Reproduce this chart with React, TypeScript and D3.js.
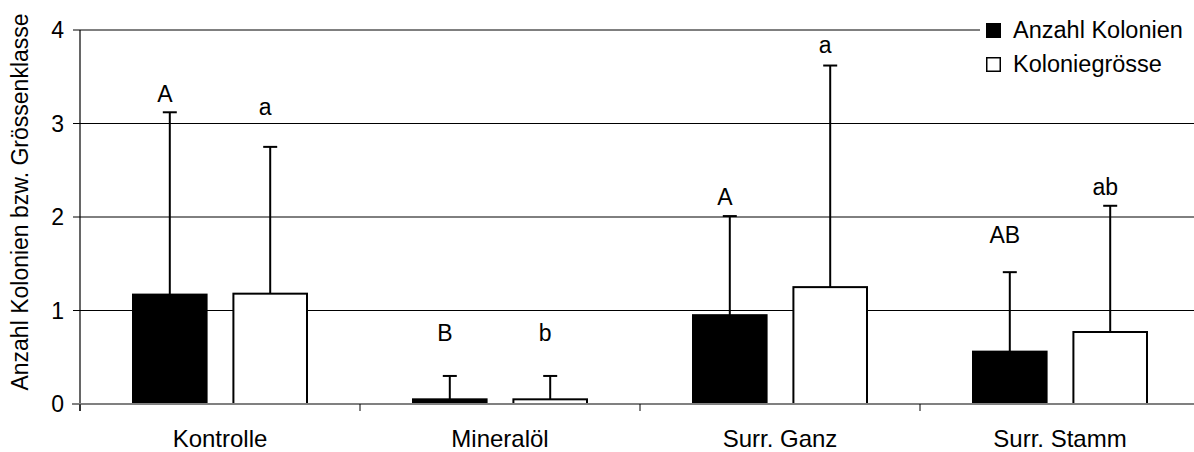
import React from 'react'
import * as d3 from 'd3'

const categories = ['Kontrolle', 'Mineralöl', 'Surr. Ganz', 'Surr. Stamm']
const series = ['Anzahl Kolonien', 'Koloniegrösse']
const anzahlMean = [1.17, 0.05, 0.95, 0.56]
const anzahlErr = [1.95, 0.25, 1.06, 0.85]
const groesseMean = [1.18, 0.05, 1.25, 0.77]
const groesseErr = [1.57, 0.25, 2.37, 1.35]
const anzahlLetters = ['A', 'B', 'A', 'AB']
const groesseLetters = ['a', 'b', 'a', 'ab']
// letter baseline, in data units (placed by hand in the original)
const anzahlLetterY = [3.23, 0.67, 2.13, 1.72]
const groesseLetterY = [3.09, 0.67, 3.75, 2.235]
const yTicks = [0, 1, 2, 3, 4]

const W = 1194, H = 452
const font = 'Arial, "Liberation Sans", sans-serif'
const fs = 23

export default function App() {
  const x0 = d3.scaleBand().domain(categories).range([80, 1200]).padding(0)
  const x1 = d3.scaleBand().domain(series).range([53, 227]).paddingInner(0.267).paddingOuter(0)
  const y = d3.scaleLinear().domain([0, 4]).range([404, 30])

  const rows = series.map((s, si) => ({
    name: s,
    fill: si === 0 ? '#000' : '#fff',
    mean: si === 0 ? anzahlMean : groesseMean,
    err: si === 0 ? anzahlErr : groesseErr,
    letters: si === 0 ? anzahlLetters : groesseLetters,
    letterY: si === 0 ? anzahlLetterY : groesseLetterY,
  }))

  return (
    <svg width={W} height={H} style={{ position: 'absolute', left: 0, top: 0, background: '#fff' }} fontFamily={font}>
      {/* gridlines */}
      {yTicks.filter(t => t > 0).map(t => (
        <line key={t} x1={80} x2={t === 4 ? 980 : W} y1={y(t)} y2={y(t)} stroke="#000" strokeWidth={1} />
      ))}
      {/* y axis */}
      <line x1={80} x2={80} y1={y(4)} y2={411} stroke="#000" strokeWidth={1.2} />
      {yTicks.map(t => (
        <g key={t}>
          <line x1={73} x2={80} y1={y(t)} y2={y(t)} stroke="#000" />
          <text x={64} y={y(t)} dy="0.35em" textAnchor="end" fontSize={fs}>{t}</text>
        </g>
      ))}
      <text transform={`translate(28,202) rotate(-90)`} textAnchor="middle" fontSize={fs}>
        Anzahl Kolonien bzw. Grössenklasse
      </text>
      {/* bars */}
      {rows.map(r => (
        <g key={r.name}>
          {categories.map((c, i) => {
            const bx = (x0(c) as number) + (x1(r.name) as number)
            const bw = x1.bandwidth()
            const cx = bx + bw / 2
            return (
              <g key={c}>
                <line x1={cx} x2={cx} y1={y(r.mean[i])} y2={y(r.mean[i] + r.err[i])} stroke="#000" strokeWidth={2} />
                <line x1={cx - 7} x2={cx + 7} y1={y(r.mean[i] + r.err[i])} y2={y(r.mean[i] + r.err[i])} stroke="#000" strokeWidth={2} />
                <rect x={bx} y={y(r.mean[i])} width={bw} height={y(0) - y(r.mean[i])} fill={r.fill} stroke="#000" strokeWidth={2} />
                <text x={cx - 5} y={y(r.letterY[i])} textAnchor="middle" fontSize={fs}>{r.letters[i]}</text>
              </g>
            )
          })}
        </g>
      ))}
      {/* x axis */}
      <line x1={72} x2={W} y1={y(0)} y2={y(0)} stroke="#808080" strokeWidth={2} />
      {categories.map(c => (
        <g key={c}>
          <line x1={x0(c) as number} x2={x0(c) as number} y1={404} y2={411} stroke="#000" />
          <text x={(x0(c) as number) + x0.bandwidth() / 2} y={447} textAnchor="middle" fontSize={24}>{c}</text>
        </g>
      ))}
      {/* legend */}
      {rows.map((r, i) => (
        <g key={r.name} transform={`translate(986,${23 + i * 34})`}>
          <rect x={0.75} y={0.75} width={13.5} height={13.5} fill={r.fill} stroke="#000" strokeWidth={1.5} />
          <text x={27} y={7} dy="0.35em" fontSize={23.5}>{r.name}</text>
        </g>
      ))}
    </svg>
  )
}
